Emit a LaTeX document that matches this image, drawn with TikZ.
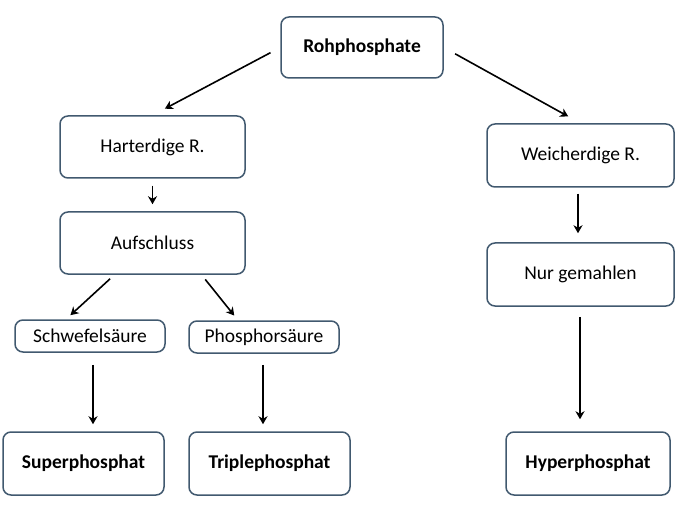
\documentclass[tikz,border=0pt]{standalone}
\usepackage{fontspec}
\setmainfont{Carlito}
\usetikzlibrary{arrows.meta}
\definecolor{boxline}{HTML}{41596F}
\begin{document}
\begin{tikzpicture}[x=1pt,y=-1pt,
  box/.style={draw=boxline,line width=1.5pt,rounded corners=8pt,fill=white,
    inner sep=0pt,font=\fontsize{19.5}{23}\selectfont,text=black},
  boldbox/.style={box,font=\fontsize{19.5}{23}\selectfont\bfseries},
  conn/.style={draw=black,line width=1.6pt,-{Stealth[length=8pt,width=9pt,inset=2.5pt]}}]
\useasboundingbox (0,0) rectangle (684,510);
\node[boldbox,minimum width=162pt,minimum height=61pt] (roh) at (362,47.5) {Rohphosphate};
\node[box,minimum width=185pt,minimum height=62pt] (hart) at (152.5,147) {Harterdige R.};
\node[box,minimum width=185pt,minimum height=62pt] (auf) at (152.5,243) {Aufschluss};
\node[box,minimum width=187pt,minimum height=63pt] (weich) at (580.5,155.5) {Weicherdige R.};
\node[box,minimum width=187pt,minimum height=63pt] (nur) at (580.5,274.5) {Nur gemahlen};
\node[box,minimum width=150pt,minimum height=32pt] (schw) at (90,336) {Schwefelsäure};
\node[box,minimum width=150pt,minimum height=32pt] (phos) at (264,337) {Phosphorsäure};
\node[boldbox,minimum width=161pt,minimum height=63pt] (super) at (83.5,463.5) {Superphosphat};
\node[boldbox,minimum width=161pt,minimum height=63pt] (triple) at (269.5,463.5) {Triplephosphat};
\node[boldbox,minimum width=164pt,minimum height=63pt] (hyper) at (588,463.5) {Hyperphosphat};
\draw[conn,shorten <=11pt,shorten >=14pt] (roh.west) -- (hart.north);
\draw[conn,shorten <=13pt,shorten >=14pt] (roh.east) -- (weich.north);
\draw[conn,shorten <=7pt,shorten >=7pt] (hart.south) -- (auf.north);
\draw[conn,shorten <=6pt,shorten >=6pt] ([xshift=-38pt]auf.south) -- ([xshift=-24pt]schw.north);
\draw[conn,shorten <=6pt,shorten >=6pt] ([xshift=49pt]auf.south) -- ([xshift=-26pt]phos.north);
\draw[conn,shorten <=12pt,shorten >=7pt] ([xshift=3pt]schw.south) -- ([xshift=9.5pt]super.north);
\draw[conn,shorten <=11pt,shorten >=7pt] ([xshift=-1pt]phos.south) -- ([xshift=-6.5pt]triple.north);
\draw[conn,shorten <=6pt,shorten >=9pt] ([xshift=-2.5pt]weich.south) -- ([xshift=-2.5pt]nur.north);
\draw[conn,shorten <=10pt,shorten >=12pt] ([xshift=-0.5pt]nur.south) -- ([xshift=-8pt]hyper.north);
\end{tikzpicture}
\end{document}
